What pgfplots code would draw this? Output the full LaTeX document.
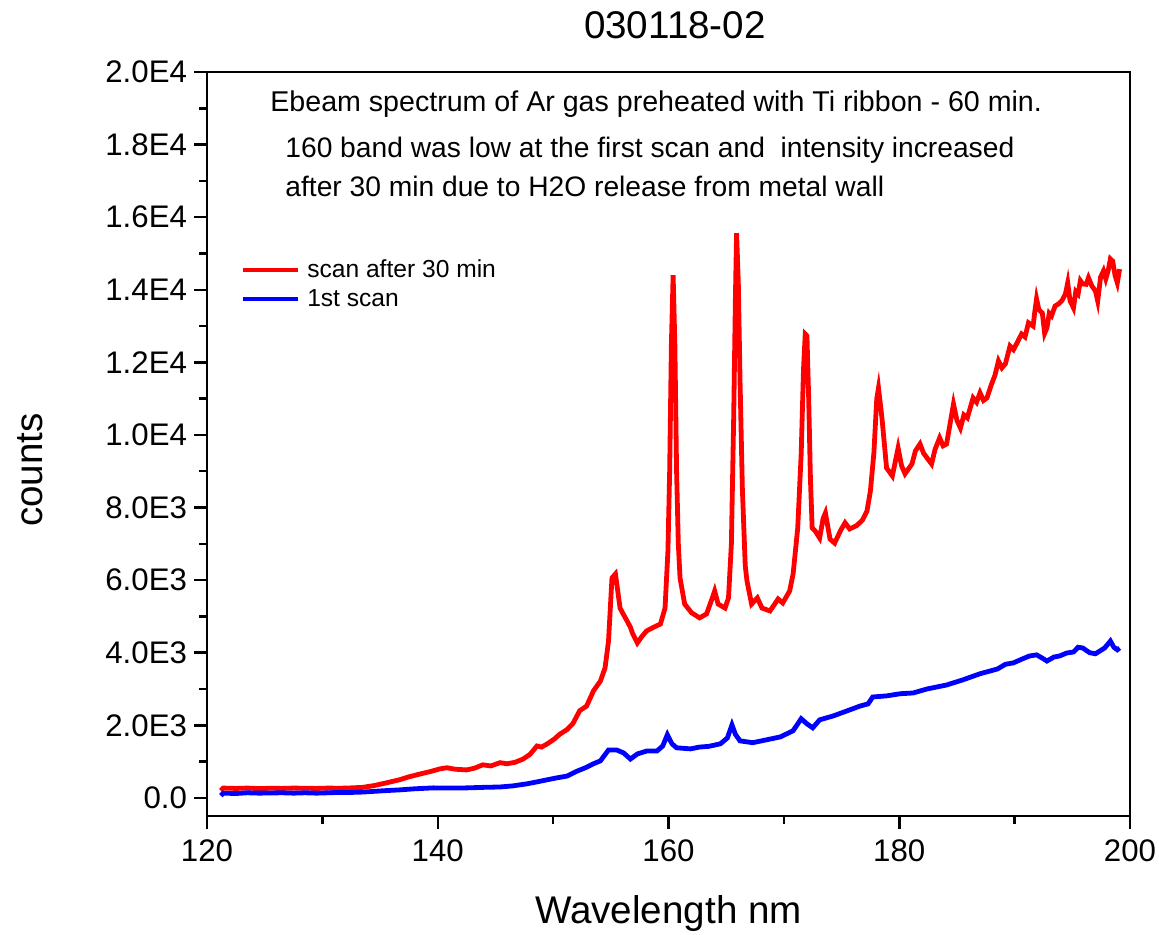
\documentclass[border=0pt]{standalone}
\usepackage{pgfplots}
\pgfplotsset{compat=1.18}
\usetikzlibrary{calc}
\usepackage{fontspec}
\setmainfont{Liberation Sans}
\begin{document}
\begin{tikzpicture}
\useasboundingbox (-103.5pt,-59pt) rectangle (476pt,408pt);
\begin{axis}[
  name=ax,
  at={(0,0)}, anchor=south west,
  scale only axis, width=461.5pt, height=372pt,
  xmin=120, xmax=200, ymin=-500, ymax=20000,
  xtick={120,140,...,200}, minor x tick num=1,
  ytick={0,2000,...,20000}, minor y tick num=1,
  yticklabels={0.0,2.0E3,4.0E3,6.0E3,8.0E3,1.0E4,1.2E4,1.4E4,1.6E4,1.8E4,2.0E4},
  scaled y ticks=false,
  xtick pos=bottom, ytick pos=left, tick align=outside,
  major tick length=6.5pt, minor tick length=4pt,
  every tick/.style={black, line width=1.25pt},
  axis line style={line width=1.25pt},
  /pgf/number format/assume math mode=true,
  tick label style={font=\fontsize{15.6}{18}\selectfont},
  xticklabel style={yshift=-2pt},
  clip=false,
  legend style={at={(axis cs:122.9,14930)}, anchor=north west, draw=none, fill=none,
    font=\fontsize{12.3}{14.5}\selectfont, inner sep=0pt, row sep=1.5pt,
    nodes={inner sep=1.5pt}},
  legend cell align=left,
  legend image code/.code={\draw[#1, line width=2pt] (0pt,0pt) -- (27.5pt,0pt); \path (29.5pt,0pt);},
]
\addplot[red, line width=2.4pt] coordinates {
(121.2,200) (121.4,270) (122.5,260) (123.5,270) (124.5,255) (125.5,265) (126.5,260) (127.5,270) (128.5,265) (129.5,260) (130.5,270) (131.5,265) (132.5,275) (133.5,290) (134.5,340) (135.5,410) (136.7,500) (137.5,580) (138.5,660) (139.3,720) (140.2,800) (140.8,830) (141.5,790) (142.5,770) (143.2,820) (143.9,910) (144.6,880) (145.4,970) (146.0,940) (146.7,980) (147.4,1070) (148.0,1200) (148.6,1430) (149.0,1400) (149.5,1490) (150.1,1620) (150.6,1760) (151.2,1880) (151.7,2040) (152.3,2400) (152.9,2530) (153.5,2950) (154.1,3220) (154.5,3580) (154.8,4320) (155.1,6060) (155.4,6170) (155.8,5230) (156.1,5050) (156.4,4880) (156.7,4700) (156.9,4520) (157.3,4270) (157.7,4450) (158.1,4600) (158.7,4700) (159.3,4790) (159.7,5230) (159.95,6800) (160.1,9000) (160.25,12500) (160.4,14400) (160.55,12500) (160.7,9000) (160.85,7000) (161.0,6060) (161.4,5340) (162.0,5100) (162.7,4960) (163.3,5070) (163.8,5510) (164.0,5700) (164.3,5340) (164.9,5230) (165.2,5510) (165.45,7000) (165.65,10500) (165.8,13800) (165.9,15560) (166.05,14200) (166.2,11500) (166.4,8540) (166.65,6400) (166.8,5980) (167.2,5340) (167.7,5510) (168.1,5230) (168.8,5150) (169.5,5480) (169.9,5370) (170.5,5700) (170.8,6170) (171.2,7440) (171.5,9480) (171.7,11800) (171.85,12780) (172.0,12730) (172.15,11000) (172.3,8800) (172.45,7440) (172.7,7360) (173.1,7160) (173.4,7700) (173.6,7850) (174.0,7130) (174.4,7020) (174.9,7360) (175.3,7580) (175.7,7410) (176.3,7500) (176.8,7650) (177.2,7900) (177.5,8460) (177.8,9500) (178.05,11000) (178.2,11290) (178.5,10470) (178.9,9090) (179.4,8870) (179.9,9640) (180.2,9150) (180.5,8930) (181.1,9200) (181.4,9560) (181.8,9750) (182.1,9500) (182.4,9370) (182.8,9200) (183.1,9600) (183.5,9920) (183.8,9700) (184.1,9750) (184.7,10850) (185.0,10400) (185.3,10190) (185.6,10550) (185.9,10470) (186.4,11020) (186.7,10900) (187.0,11160) (187.3,10950) (187.6,11020) (188.0,11400) (188.3,11650) (188.6,12040) (188.9,11850) (189.2,11960) (189.6,12450) (189.9,12350) (190.2,12530) (190.6,12780) (190.9,12700) (191.2,13090) (191.6,13000) (191.75,13400) (191.9,13750) (192.1,13450) (192.4,13360) (192.6,12800) (192.8,12950) (193.0,13350) (193.2,13280) (193.5,13550) (193.8,13610) (194.1,13700) (194.4,13880) (194.6,14190) (194.8,13700) (195.1,13500) (195.3,13950) (195.5,13880) (195.7,14250) (195.9,14160) (196.2,14150) (196.4,14330) (196.7,14100) (197.0,13970) (197.2,13690) (197.45,14350) (197.7,14520) (197.9,14300) (198.1,14520) (198.3,14850) (198.5,14790) (198.7,14400) (198.9,14190) (199.1,14570)
};
\addlegendentry{scan after 30 min}
\addplot[blue, line width=2.4pt] coordinates {
(121.2,60) (121.4,130) (122.5,120) (123.5,140) (124.5,130) (125.5,135) (126.5,140) (127.5,130) (128.5,140) (129.5,130) (130.5,140) (131.5,150) (132.5,150) (133.5,160) (134.5,180) (135.5,200) (136.7,220) (138,250) (139.6,275) (141,270) (142.5,275) (144,290) (145.4,300) (146.5,330) (147.7,385) (148.6,440) (149.5,500) (150.3,550) (151.2,600) (152.1,740) (152.8,830) (153.5,940) (154.1,1020) (154.8,1320) (155.5,1320) (156.1,1240) (156.7,1070) (157.3,1210) (158.1,1290) (159.0,1290) (159.5,1430) (159.9,1740) (160.3,1490) (160.7,1380) (161.9,1350) (162.7,1400) (163.5,1420) (164.5,1490) (165.1,1650) (165.5,2010) (165.8,1750) (166.2,1570) (167.3,1520) (168.5,1600) (169.7,1680) (170.8,1850) (171.5,2180) (172.0,2040) (172.5,1930) (173.1,2150) (174.3,2260) (175.5,2400) (176.6,2530) (177.3,2590) (177.7,2780) (178.9,2810) (180.1,2870) (181.2,2890) (182.4,3000) (184.1,3110) (185.5,3250) (187.0,3420) (188.5,3550) (189.2,3680) (189.9,3720) (190.6,3820) (191.3,3910) (191.9,3940) (192.4,3850) (192.8,3770) (193.4,3880) (193.9,3910) (194.5,3990) (195.1,4020) (195.5,4150) (195.9,4130) (196.5,4000) (197.0,3970) (197.8,4130) (198.3,4320) (198.6,4150) (198.9,4080) (199.1,4130)
};
\addlegendentry{1st scan}
\node[anchor=west, inner sep=0pt, font=\fontsize{14.3}{17}\selectfont] at (axis cs:125.46,19120) {Ebeam spectrum of Ar gas preheated with Ti ribbon - 60 min.};
\node[anchor=west, inner sep=0pt, font=\fontsize{14.1}{17}\selectfont] at (axis cs:126.76,17850) {160 band was low at the first scan and\ \ intensity increased};
\node[anchor=west, inner sep=0pt, font=\fontsize{14.1}{17}\selectfont] at (axis cs:126.76,16860) {after 30 min due to H2O release from metal wall};
\end{axis}
\node[anchor=center, font=\fontsize{19.3}{22}\selectfont] at ($(ax.north)+(3.2pt,23.5pt)$) {030118-02};
\node[anchor=center, font=\fontsize{19.3}{22}\selectfont] at ($(ax.south)+(0,-48.5pt)$) {Wavelength nm};
\node[anchor=center, rotate=90, font=\fontsize{19.3}{22}\selectfont] at ($(ax.west)+(-88.5pt,-13pt)$) {counts};
\end{tikzpicture}
\end{document}
